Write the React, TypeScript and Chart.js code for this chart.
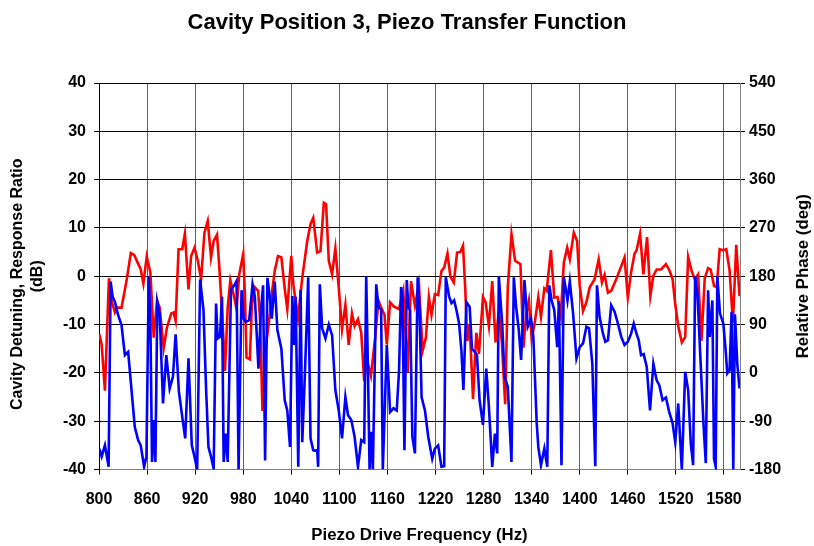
import React, { useEffect, useRef } from "react";
import { Chart, registerables } from "chart.js";

Chart.register(...registerables);

const titleText = "Cavity Position 3, Piezo Transfer Function";
const xTitle = "Piezo Drive Frequency (Hz)";
const yTitleLines = ["Cavity Detuning, Response Ratio", "(dB)"];
const y1Title = "Relative Phase (deg)";

const xTicks = [800, 860, 920, 980, 1040, 1100, 1160, 1220, 1280, 1340, 1400, 1460, 1520, 1580];

const redFreq = [
  800.4, 803.3, 807.4, 812.4, 815.7, 819.9, 822.8, 828.1, 834.3, 839.7, 843.9, 852.1, 855.4, 859.6, 864.1,
  868.3, 872.4, 875.7, 880.7, 884.8, 890.2, 893.1, 895.6, 899.3, 903.9, 907.2, 911.7, 915.0, 919.2, 923.3,
  927.4, 931.6, 935.7, 939.8, 943.1, 947.3, 950.2, 954.3, 957.2, 960.6, 963.9, 968.8, 971.7, 975.0, 980.0,
  982.1, 984.1, 988.3, 990.8, 994.5, 998.6, 1001.1, 1004.0, 1008.1, 1012.3, 1015.6, 1019.3, 1023.4, 1027.6,
  1032.1, 1035.0, 1040.0, 1042.5, 1048.3, 1053.7, 1059.9, 1064.0, 1067.4, 1072.3, 1076.4, 1080.6, 1083.4,
  1086.8, 1090.9, 1095.0, 1099.2, 1103.3, 1107.5, 1111.6, 1115.7, 1119.0, 1123.2, 1127.3, 1131.0, 1134.3,
  1139.3, 1144.7, 1148.8, 1153.0, 1156.3, 1159.2, 1163.3, 1168.3, 1174.5, 1179.8, 1185.2, 1189.4, 1194.3,
  1199.3, 1203.9, 1208.0, 1211.7, 1215.0, 1219.2, 1223.3, 1227.4, 1230.8, 1234.9, 1238.6, 1242.8, 1246.9,
  1251.0, 1254.3, 1257.2, 1259.7, 1262.6, 1266.8, 1270.9, 1274.2, 1279.2, 1282.5, 1286.6, 1290.8, 1294.9,
  1299.0, 1302.8, 1306.9, 1310.2, 1314.8, 1319.3, 1323.1, 1326.0, 1329.7, 1333.0, 1336.5, 1340.0, 1344.2,
  1348.3, 1351.6, 1355.8, 1358.7, 1364.0, 1368.2, 1372.3, 1376.4, 1380.1, 1384.3, 1387.6, 1392.6, 1396.7,
  1400.0, 1404.1, 1408.3, 1412.4, 1418.6, 1423.6, 1427.7, 1431.0, 1435.2, 1439.3, 1445.5, 1451.8, 1455.9,
  1460.0, 1464.1, 1468.3, 1471.0, 1475.3, 1479.4, 1484.0, 1488.1, 1491.9, 1496.0, 1501.4, 1507.6, 1511.7,
  1515.9, 1519.2, 1522.9, 1527.4, 1531.6, 1535.3, 1539.4, 1543.6, 1547.7, 1551.9, 1556.0, 1560.2, 1563.4,
  1567.6, 1570.9, 1574.6, 1578.8, 1582.9, 1587.0, 1591.2, 1595.3, 1599.4,
];
const redDb = [
  -12.0, -14.1, -23.7, -0.4, -5.1, -7.5, -6.5, -6.5, -1.0, 4.8, 4.4, 1.4, -1.5, 4.1, 0.8,
  -12.7, -5.0, -6.5, -14.9, -10.6, -7.7, -7.5, -9.2, 5.6, 5.6, 8.8, -2.7, 4.2, 5.9, 3.2,
  -0.6, 9.0, 11.4, 3.9, 7.3, 8.6, 1.8, -9.6, -19.6, -6.5, -0.8, -4.4, -6.8, 0.4, 4.6,
  -3.7, -16.8, -17.2, -6.1, -2.3, -3.0, -9.2, -27.9, -14.8, -9.2, -3.7, 1.1, 4.2, 3.9,
  -3.0, -6.8, 4.2, -1.7, -8.6, -0.3, 7.3, 10.8, 12.1, 4.9, 5.2, 15.2, 14.9,
  3.2, 0.4, 5.8, -2.3, -11.0, -5.9, -14.2, -7.7, -10.3, -8.9, -11.7, -21.7, -17.2,
  -20.6, -12.7, -5.1, -6.8, -8.0, -14.1, -5.4, -6.3, -6.8, -3.0, -19.9, -1.0, -6.1,
  -1.7, -15.4, -12.7, -4.3, -8.0, -3.7, -3.9, 1.1, 1.8, 4.7, -0.1, -1.3, 4.9,
  5.0, 6.3, -3.0, -13.4, -9.9, -25.4, -11.7, -16.1, -4.3, -5.4, -10.3, -1.0, -13.7,
  -7.2, -13.7, -26.5, -2.3, 8.7, 3.2, 2.8, 2.5, -14.8, -7.9, -5.0, -13.0, -9.2,
  -4.3, -8.4, -2.5, -3.0, 5.4, -4.4, -4.3, -8.2, 2.8, 5.9, 3.5, 9.0, 7.3,
  -2.0, -7.2, -5.4, -2.3, -0.6, 3.5, -1.3, 0.3, -3.4, -3.0, -0.6, 2.1, 3.9,
  -4.4, 0.8, 4.6, 5.4, 8.8, 0.4, 8.1, -4.1, 0.1, 1.4, 1.4, 2.5, 1.3,
  -0.6, -5.8, -10.3, -13.7, -12.6, 4.0, 1.2, -0.6, 0.4, -13.4, -0.4, 1.7, 1.4,
  -2.0, -2.3, 5.6, 5.4, 5.6, 1.2, -9.6, 6.5, -4.1,
];

const blueFreq = [
  800.4, 803.3, 807.4, 812.0, 814.5, 817.0, 819.9, 824.0, 828.1, 832.3, 836.4, 840.6, 844.7, 848.8, 852.1,
  856.3, 859.2, 862.1, 864.1, 866.2, 868.3, 870.4, 872.8, 875.7, 879.9, 884.0, 888.2, 892.3, 895.6, 899.7,
  903.9, 907.6, 911.7, 915.8, 919.2, 922.5, 926.2, 930.4, 933.7, 936.6, 939.8, 943.1, 946.1, 948.1, 951.0,
  953.5, 955.6, 958.4, 960.6, 964.7, 968.8, 971.7, 974.2, 977.9, 980.4, 983.3, 987.4, 991.6, 994.5, 999.0,
  1001.9, 1004.8, 1007.3, 1010.2, 1013.1, 1015.6, 1019.3, 1022.6, 1027.6, 1031.8, 1035.0, 1038.4, 1041.3,
  1043.3, 1045.4, 1048.7, 1051.6, 1053.7, 1057.0, 1061.1, 1064.0, 1067.4, 1069.4, 1072.3, 1073.5, 1075.6,
  1078.5, 1082.6, 1086.8, 1090.9, 1095.0, 1099.2, 1103.3, 1107.5, 1110.8, 1114.9, 1119.0, 1123.2, 1127.3,
  1131.0, 1133.5, 1135.6, 1137.7, 1139.7, 1141.8, 1146.0, 1148.8, 1152.1, 1154.2, 1159.2, 1163.3, 1167.5,
  1171.6, 1174.5, 1177.0, 1178.7, 1181.2, 1184.1, 1186.1, 1188.2, 1191.1, 1194.3, 1197.7, 1200.0, 1202.6,
  1206.8, 1210.9, 1215.9, 1219.2, 1223.3, 1227.4, 1230.8, 1232.8, 1237.0, 1239.9, 1243.2, 1246.1, 1249.4,
  1252.3, 1254.8, 1258.5, 1262.6, 1265.5, 1268.9, 1271.7, 1275.0, 1279.2, 1283.3, 1286.6, 1290.8, 1294.1,
  1297.0, 1299.0, 1303.2, 1306.1, 1310.2, 1314.8, 1317.7, 1320.6, 1323.9, 1326.8, 1331.0, 1335.1, 1339.2,
  1342.1, 1346.3, 1348.3, 1351.6, 1355.8, 1359.5, 1362.0, 1364.9, 1368.2, 1371.9, 1374.0, 1377.2, 1380.1,
  1382.2, 1384.7, 1387.6, 1391.7, 1395.9, 1400.0, 1404.1, 1408.3, 1411.6, 1415.7, 1419.4, 1421.5, 1424.8,
  1429.0, 1431.9, 1435.2, 1439.3, 1443.5, 1447.6, 1451.8, 1455.9, 1460.0, 1464.1, 1467.4, 1471.0, 1473.6,
  1476.5, 1479.8, 1483.6, 1487.7, 1491.9, 1496.0, 1499.3, 1503.4, 1507.6, 1511.7, 1515.9, 1519.2, 1522.9,
  1527.4, 1531.6, 1535.3, 1538.6, 1541.5, 1544.0, 1546.9, 1551.1, 1554.4, 1557.3, 1560.2, 1562.2, 1565.5,
  1567.6, 1569.7, 1571.7, 1575.0, 1579.2, 1582.1, 1584.1, 1587.0, 1589.5, 1591.6, 1593.7, 1596.6, 1599.4,
];
const bluePhase = [
  -141, -156, -135, -175, 170, 142, 132, 107, 89, 33, 39, -32, -101, -125, -135,
  -175, -156, 180, 98, -166, -88, -166, 132, 111, -57, 33, -29, -7, 72, -35,
  -82, -122, 27, -135, -156, -180, 174, 117, -32, -138, -156, -178, 129, 64, 67,
  142, -166, -113, -166, 155, 163, 171, -180, 154, 101, 95, 98, 165, 142, 8,
  111, 163, -163, 177, 142, 101, 170, 80, 45, -51, -70, -138, 143,
  52, 142, -175, 155, -129, -1, 178, -122, -144, -145, -144, -175, 165,
  83, 64, 90, 70, -32, -70, -122, -45, -79, -88, -119, -175, -125,
  -129, 180, 11, -180, -110, -180, 165, 123, 118, -180, 52, -73, -66,
  -70, 5, 160, 142, -144, 173, 123, 117, -119, -150, 178, 120, -45,
  -70, -119, -160, -141, -135, -175, -174, 178, 142, 130, 135, 117, 92,
  42, -32, 132, 123, 45, 39, 33, -51, -97, 8, -63, -175, -113,
  -150, 180, 92, -7, -26, -166, 178, 123, 80, 24, 173, 86, 101,
  67, -94, -138, -172, -141, -175, 163, 135, 117, 48, 134, -172, 178,
  160, 135, 170, 111, 27, 48, 55, 86, 83, 17, -174, 163, 104,
  73, 58, 61, 126, 114, 92, 67, 52, 58, 73, 92, 72, 61,
  33, 35, 11, -70, 17, -14, -23, -51, -46, -73, -94, -129, -57,
  -180, 2, -32, -132, -172, 180, 148, 11, -94, -168, 154, 67, 135,
  -160, -175, 180, 111, 92, 42, -1, 5, 114, -180, 109, 17, -29,
];

const FONT = "'Liberation Sans', Arial, sans-serif";

const axisTitlesPlugin = {
  id: "axisTitles",
  afterDraw(chart: any) {
    const { ctx, chartArea } = chart;
    const cy = (chartArea.top + chartArea.bottom) / 2;
    const cx = (chartArea.left + chartArea.right) / 2;
    ctx.save();
    ctx.fillStyle = "#000";
    ctx.textAlign = "center";
    ctx.textBaseline = "middle";
    ctx.font = `bold 16.8px ${FONT}`;
    ctx.fillText(xTitle, cx, 535);
    ctx.save();
    ctx.translate(803, cy);
    ctx.rotate(-Math.PI / 2);
    ctx.fillText(y1Title, 0, 0);
    ctx.restore();
    ctx.font = `bold 16px ${FONT}`;
    ctx.save();
    ctx.translate(18, cy);
    ctx.rotate(-Math.PI / 2);
    ctx.fillText(yTitleLines[0], -8, 0);
    ctx.fillText(yTitleLines[1], 0, 20);
    ctx.restore();
    ctx.restore();
  },
};

export default function App() {
  const ref = useRef<HTMLCanvasElement | null>(null);
  useEffect(() => {
    if (!ref.current) return;
    const tickFont = { family: FONT, size: 16, weight: "bold" as const };
    const chart = new Chart(ref.current, {
      type: "line",
      data: {
        datasets: [
          {
            label: "Relative Phase (deg)",
            data: blueFreq.map((f, i) => ({ x: f, y: bluePhase[i] })),
            borderColor: "#0000ff",
            borderWidth: 2.6,
            pointRadius: 0,
            tension: 0,
            yAxisID: "y1",
          },
          {
            label: "Response Ratio (dB)",
            data: redFreq.map((f, i) => ({ x: f, y: redDb[i] })),
            borderColor: "#ff0000",
            borderWidth: 2.6,
            pointRadius: 0,
            tension: 0,
            yAxisID: "y",
          },
        ],
      },
      options: {
        animation: false,
        responsive: true,
        maintainAspectRatio: false,
        layout: { padding: 0 },
        plugins: {
          legend: { display: false },
          tooltip: { enabled: false },
          title: {
            display: true,
            text: titleText,
            color: "#000",
            font: { family: FONT, size: 22, weight: "bold" },
            padding: { top: 10, bottom: 46.6 },
          },
        },
        scales: {
          x: {
            type: "linear",
            min: 800,
            max: 1600,
            ticks: {
              color: "#000",
              font: tickFont,
              padding: 15,
              maxRotation: 0,
              autoSkip: false,
              callback: (v: any) => String(v),
            },
            afterBuildTicks: (scale: any) => {
              scale.ticks = xTicks.map((v) => ({ value: v }));
            },
            afterFit: (scale: any) => {
              scale.height = 76.5;
            },
            grid: { color: "#606060", tickColor: "#000", tickLength: 5, lineWidth: 1 },
            border: { display: true, color: "#808080" },
          },
          y: {
            type: "linear",
            position: "left",
            min: -40,
            max: 40,
            ticks: { stepSize: 10, color: "#000", font: tickFont, padding: 8 },
            afterFit: (scale: any) => {
              scale.width = 99;
            },
            grid: { color: "#000", tickColor: "#000", tickLength: 5, lineWidth: 1 },
            border: { display: true, color: "#000" },
          },
          y1: {
            type: "linear",
            position: "right",
            min: -180,
            max: 540,
            ticks: { stepSize: 90, color: "#000", font: tickFont, padding: 4 },
            afterFit: (scale: any) => {
              scale.width = 74;
            },
            grid: { drawOnChartArea: false, tickColor: "#000", tickLength: 5 },
            border: { display: true, color: "#808080" },
          },
        },
      },
      plugins: [axisTitlesPlugin],
    });
    return () => chart.destroy();
  }, []);
  return (
    <div style={{ position: "fixed", left: 0, top: 0, width: 814, height: 546, background: "#fff" }}>
      <canvas ref={ref} />
    </div>
  );
}
